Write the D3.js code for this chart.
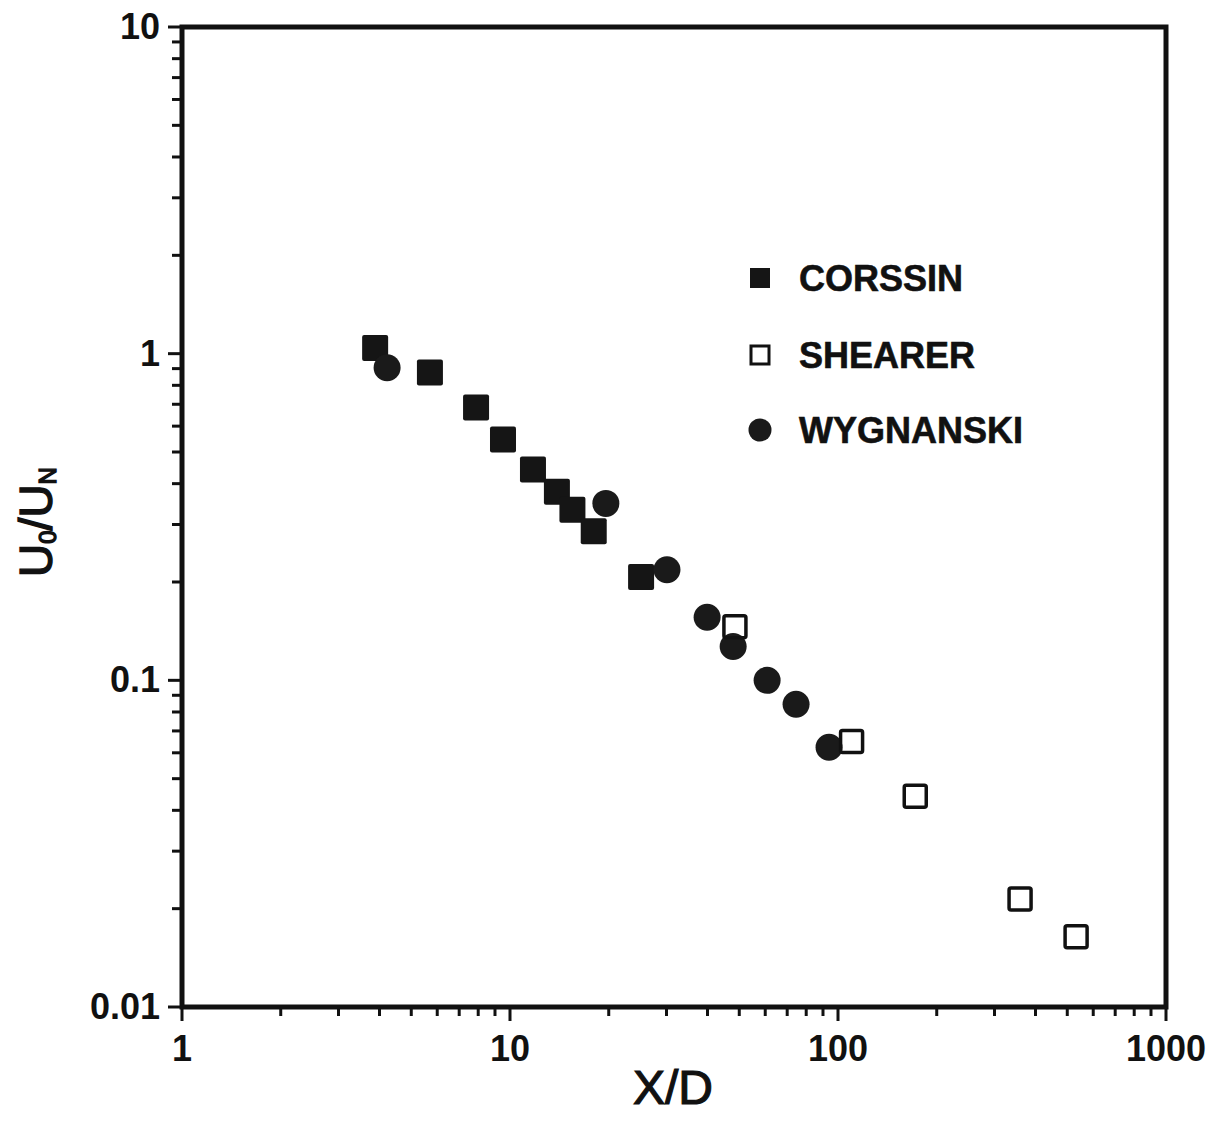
<!DOCTYPE html>
<html>
<head>
<meta charset="utf-8">
<script src="https://cdn.jsdelivr.net/npm/d3@7"></script>
<style>
  html, body { margin: 0; padding: 0; background: #fff; }
  svg { display: block; }
  text { font-family: "Liberation Sans", Arial, sans-serif; fill: #111; }
</style>
</head>
<body>
<svg id="chart" width="1216" height="1142"></svg>
<script>
// ---- data ----
const corssinX = [3.88, 5.70, 7.88, 9.52, 11.75, 13.9, 15.5, 18.0, 25.1];
const corssinY = [1.04, 0.875, 0.684, 0.546, 0.442, 0.378, 0.333, 0.286, 0.207];
const shearerX = [48.5, 110, 172, 359, 532];
const shearerY = [0.146, 0.065, 0.0442, 0.0214, 0.0164];
const wygnanskiX = [4.22, 19.6, 30.1, 39.9, 47.9, 60.8, 74.5, 93.9];
const wygnanskiY = [0.906, 0.348, 0.218, 0.156, 0.127, 0.100, 0.0845, 0.0624];
const xTickLabels = ["1", "10", "100", "1000"];
const yTickLabels = ["0.01", "0.1", "1", "10"];
const seriesNames = ["CORSSIN", "SHEARER", "WYGNANSKI"];

// ---- layout ----
const svg = d3.select("#chart");
const L = 182, R = 1166, T = 27, B = 1007;
const x = d3.scaleLog().domain([1, 1000]).range([L, R]);
const y = d3.scaleLog().domain([0.01, 10]).range([B, T]);
const ink = "#111";

// minor + major ticks
const xTicks = [];
const yTicks = [];
for (let d = 0; d < 3; d++) for (let m = 1; m <= 10; m++) xTicks.push(m * Math.pow(10, d));
for (let d = -2; d < 1; d++) for (let m = 1; m <= 10; m++) yTicks.push(+(m * Math.pow(10, d)).toPrecision(3));
const isMajor = v => Math.abs(Math.log10(v) - Math.round(Math.log10(v))) < 1e-9;

const gx = svg.append("g");
gx.selectAll("line").data(Array.from(new Set(xTicks))).join("line")
  .attr("x1", d => x(d)).attr("x2", d => x(d))
  .attr("y1", B).attr("y2", d => B + (isMajor(d) ? 14 : 9))
  .attr("stroke", ink).attr("stroke-width", 3);
gx.selectAll("text").data(xTickLabels).join("text")
  .attr("x", d => x(+d)).attr("y", B + 54)
  .attr("text-anchor", "middle").attr("font-size", 36).attr("font-weight", "bold")
  .text(d => d);

const gy = svg.append("g");
gy.selectAll("line").data(Array.from(new Set(yTicks))).join("line")
  .attr("y1", d => y(d)).attr("y2", d => y(d))
  .attr("x1", L).attr("x2", d => L - (isMajor(d) ? 14 : 10))
  .attr("stroke", ink).attr("stroke-width", 3);
gy.selectAll("text").data(yTickLabels).join("text")
  .attr("x", L - 22).attr("y", d => y(+d) + 12)
  .attr("text-anchor", "end").attr("font-size", 36).attr("font-weight", "bold")
  .text(d => d);

// frame
svg.append("rect").attr("x", L).attr("y", T).attr("width", R - L).attr("height", B - T)
  .attr("fill", "none").attr("stroke", ink).attr("stroke-width", 5);

// points
const toPts = (xs, ys) => xs.map((v, i) => ({ x: v, y: ys[i] }));
const g = svg.append("g");
const sq = 26;
g.selectAll(".c").data(toPts(corssinX, corssinY)).join("rect").attr("class", "c")
  .attr("x", d => x(d.x) - sq / 2).attr("y", d => y(d.y) - sq / 2)
  .attr("width", sq).attr("height", sq).attr("rx", 2).attr("fill", "#151515");
g.selectAll(".w").data(toPts(wygnanskiX, wygnanskiY)).join("circle").attr("class", "w")
  .attr("cx", d => x(d.x)).attr("cy", d => y(d.y)).attr("r", 13.5).attr("fill", "#1a1a1a");
const os = 22;
g.selectAll(".s").data(toPts(shearerX, shearerY)).join("rect").attr("class", "s")
  .attr("x", d => x(d.x) - os / 2).attr("y", d => y(d.y) - os / 2)
  .attr("width", os).attr("height", os).attr("rx", 2)
  .attr("fill", "none").attr("stroke", ink).attr("stroke-width", 3.5);

// legend
const lg = svg.append("g");
const legY = [278, 355, 430];
lg.append("rect").attr("x", 750).attr("y", legY[0] - 10).attr("width", 20).attr("height", 20).attr("fill", "#151515");
lg.append("rect").attr("x", 751).attr("y", legY[1] - 9).attr("width", 18).attr("height", 18)
  .attr("fill", "none").attr("stroke", ink).attr("stroke-width", 3);
lg.append("circle").attr("cx", 760).attr("cy", legY[2]).attr("r", 11.5).attr("fill", "#1a1a1a");
lg.selectAll("text").data(seriesNames).join("text")
  .attr("x", 799).attr("y", (d, i) => legY[i] + 13)
  .attr("font-size", 36).attr("font-weight", "bold")
  .attr("stroke", ink).attr("stroke-width", 0.6)
  .text(d => d);

// axis titles
svg.append("text").attr("x", 673).attr("y", 1104).attr("text-anchor", "middle")
  .attr("font-size", 48).attr("stroke", ink).attr("stroke-width", 1.2).text("X/D");
const yl = svg.append("text").attr("transform", "translate(52,522) rotate(-90)")
  .attr("text-anchor", "middle").attr("font-size", 46)
  .attr("stroke", ink).attr("stroke-width", 1.4);
yl.append("tspan").text("U");
yl.append("tspan").attr("font-size", 24).attr("dy", 4).text("0");
yl.append("tspan").attr("dy", -4).text("/U");
yl.append("tspan").attr("font-size", 24).attr("dy", 4).text("N");
</script>
</body>
</html>
